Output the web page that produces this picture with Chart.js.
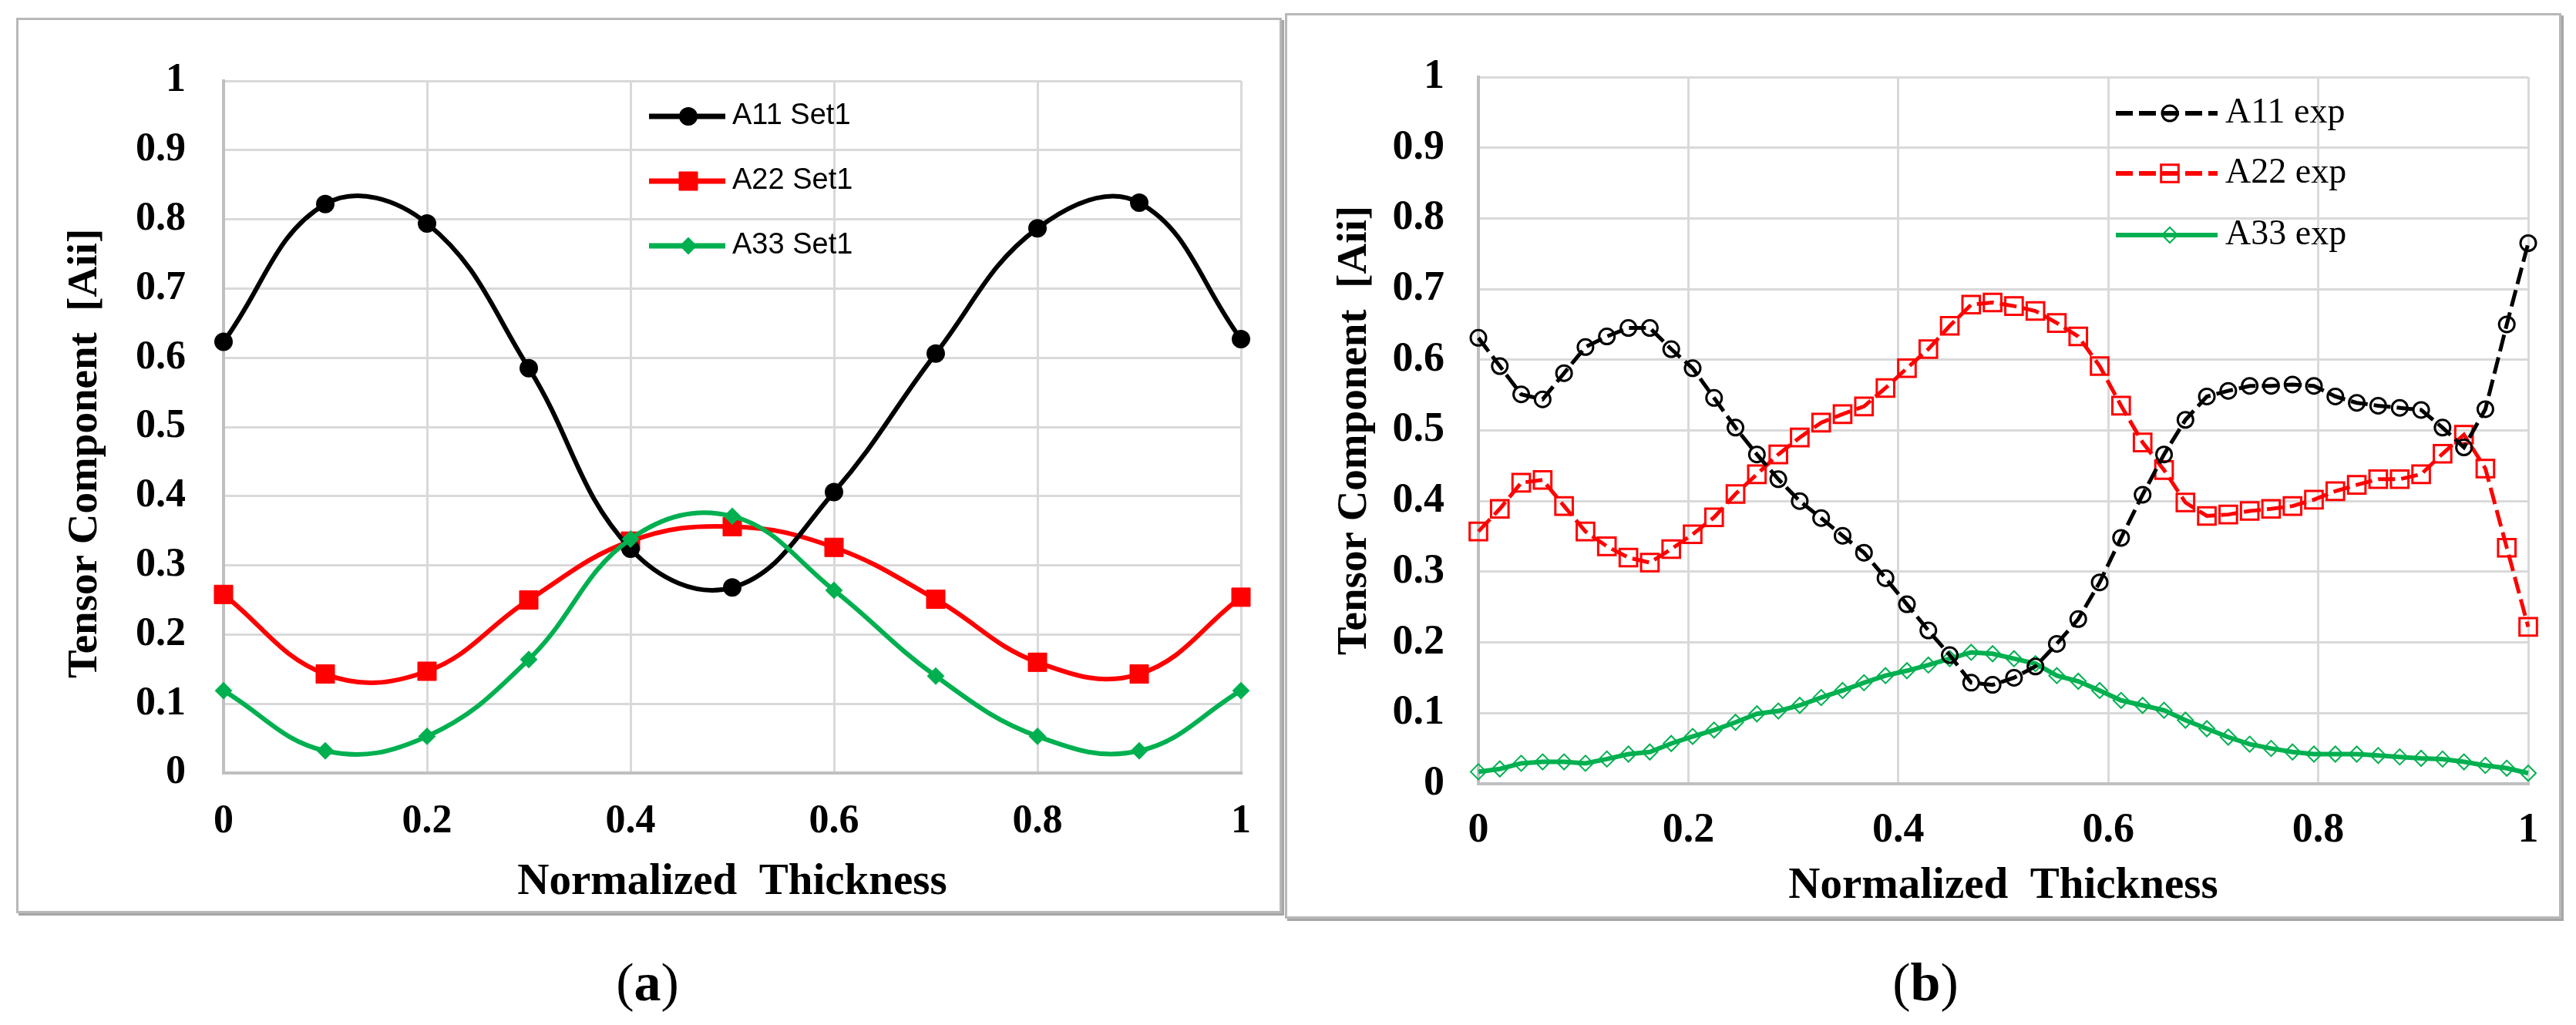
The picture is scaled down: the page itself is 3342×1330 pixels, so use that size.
<!DOCTYPE html>
<html><head><meta charset="utf-8">
<script src="https://cdn.jsdelivr.net/npm/chart.js@4.4.0/dist/chart.umd.min.js"></script>
<style>
html,body{margin:0;padding:0;background:#fff;}
body{width:3342px;height:1330px;position:relative;overflow:hidden;}
.frame{position:absolute;box-sizing:border-box;border:3px solid #b8b8b8;box-shadow:3px 3px 0 #a6a6a6;}
#frameA{left:21px;top:23px;width:1642px;height:1162px;}
#frameB{left:1667px;top:17px;width:1656px;height:1175px;}
canvas{position:absolute;}
#cA{left:0;top:0;}
#cB{left:1667px;top:0;}
.cap{position:absolute;font-family:"Liberation Serif";font-size:70px;line-height:70px;width:200px;text-align:center;color:#000;}
</style></head>
<body>
<div class="frame" id="frameA"></div>
<div class="frame" id="frameB"></div>
<canvas id="cA" width="1665" height="1200" style="width:1665px;height:1200px"></canvas>
<canvas id="cB" width="1675" height="1200" style="width:1675px;height:1200px"></canvas>
<div class="cap" style="left:740px;top:1240px">(<b>a</b>)</div>
<div class="cap" style="left:2398px;top:1240px">(<b>b</b>)</div>
<script>
// ---------- data ----------
const xTickValues = [0, 0.2, 0.4, 0.6, 0.8, 1];
const yTickValues = [0, 0.1, 0.2, 0.3, 0.4, 0.5, 0.6, 0.7, 0.8, 0.9, 1];

// panel (a)
const thicknessA = [0, 0.1, 0.2, 0.3, 0.4, 0.5, 0.6, 0.7, 0.8, 0.9, 1];
const a11Set1 = [0.623, 0.822, 0.794, 0.585, 0.324, 0.268, 0.406, 0.606, 0.787, 0.824, 0.627];
const a22Set1 = [0.258, 0.143, 0.147, 0.250, 0.335, 0.356, 0.326, 0.251, 0.160, 0.143, 0.254];
const a33Set1 = [0.119, 0.032, 0.053, 0.164, 0.338, 0.371, 0.264, 0.140, 0.053, 0.032, 0.119];

// panel (b)
const thicknessB = [0, 0.0204, 0.0408, 0.0612, 0.0816, 0.1020, 0.1224, 0.1429, 0.1633, 0.1837,
  0.2041, 0.2245, 0.2449, 0.2653, 0.2857, 0.3061, 0.3265, 0.3469, 0.3673, 0.3878,
  0.4082, 0.4286, 0.4490, 0.4694, 0.4898, 0.5102, 0.5306, 0.5510, 0.5714, 0.5918,
  0.6122, 0.6327, 0.6531, 0.6735, 0.6939, 0.7143, 0.7347, 0.7551, 0.7755, 0.7959,
  0.8163, 0.8367, 0.8571, 0.8776, 0.8980, 0.9184, 0.9388, 0.9592, 0.9796, 1];
const a11Exp = [0.631, 0.591, 0.551, 0.544, 0.581, 0.618, 0.633, 0.645, 0.645, 0.615,
  0.588, 0.546, 0.504, 0.466, 0.431, 0.400, 0.376, 0.351, 0.327, 0.291,
  0.254, 0.217, 0.182, 0.143, 0.140, 0.150, 0.166, 0.198, 0.233, 0.285,
  0.348, 0.409, 0.466, 0.515, 0.548, 0.556, 0.563, 0.563, 0.565, 0.563,
  0.548, 0.539, 0.535, 0.532, 0.529, 0.504, 0.476, 0.530, 0.650, 0.765];
const a22Exp = [0.357, 0.389, 0.426, 0.430, 0.393, 0.357, 0.336, 0.320, 0.313, 0.332,
  0.353, 0.377, 0.410, 0.438, 0.466, 0.490, 0.511, 0.523, 0.534, 0.560,
  0.588, 0.615, 0.648, 0.678, 0.681, 0.676, 0.669, 0.652, 0.633, 0.591,
  0.535, 0.483, 0.444, 0.398, 0.379, 0.381, 0.386, 0.389, 0.393, 0.402,
  0.414, 0.423, 0.431, 0.431, 0.438, 0.467, 0.494, 0.446, 0.334, 0.222];
const a33Exp = [0.017, 0.021, 0.029, 0.031, 0.031, 0.029, 0.035, 0.042, 0.045, 0.057,
  0.067, 0.076, 0.087, 0.099, 0.103, 0.111, 0.122, 0.132, 0.143, 0.153,
  0.160, 0.168, 0.177, 0.186, 0.184, 0.177, 0.170, 0.153, 0.145, 0.132,
  0.118, 0.111, 0.104, 0.090, 0.078, 0.066, 0.056, 0.050, 0.045, 0.042,
  0.042, 0.042, 0.040, 0.038, 0.036, 0.035, 0.031, 0.026, 0.022, 0.015];

const BLACK = '#000000', RED = '#ff0000', GREEN = '#00b050';
const GRID = '#d9d9d9', AXIS = '#bfbfbf';

function pts(xs, ys) { return xs.map((x, i) => ({x: x, y: ys[i]})); }

// ---------- legend drawn inside the plot ----------
const insideLegend = {
  id: 'insideLegend',
  afterDraw(chart, args, o) {
    const ctx = chart.ctx;
    ctx.save();
    chart.data.datasets.forEach((ds, i) => {
      const y = o.rows[i];
      ctx.strokeStyle = ds.borderColor;
      ctx.lineWidth = o.lineWidth;
      ctx.setLineDash(ds.borderDash || []);
      ctx.beginPath(); ctx.moveTo(o.x0, y); ctx.lineTo(o.x1, y); ctx.stroke();
      ctx.setLineDash([]);
      ctx.fillStyle = ds.pointBackgroundColor;
      ctx.strokeStyle = ds.pointBorderColor;
      ctx.lineWidth = ds.pointBorderWidth;
      Chart.helpers.drawPoint(ctx, {pointStyle: ds.pointStyle, radius: ds.pointRadius,
        borderWidth: ds.pointBorderWidth, rotation: 0}, o.xm, y);
      ctx.fillStyle = '#000';
      ctx.font = o.font;
      ctx.textBaseline = 'middle';
      ctx.textAlign = 'left';
      ctx.fillText(ds.label, o.xt, y);
    });
    ctx.restore();
  }
};

function scales(cfg) {
  const tickFont = {family: 'Liberation Serif', size: cfg.tickSize, weight: 'bold'};
  return {
    x: {
      type: 'linear', min: 0, max: 1,
      afterBuildTicks: s => { s.ticks = xTickValues.map(v => ({value: v})); },
      afterFit: s => { s.height = cfg.xHeight; },
      ticks: {font: tickFont, color: '#000', padding: cfg.xTickPad, maxRotation: 0, autoSkip: false,
        callback: v => String(v)},
      grid: {color: GRID, lineWidth: 3, drawTicks: false},
      border: {color: AXIS, width: 4},
      title: {display: true, text: 'Normalized  Thickness', color: '#000',
        font: {family: 'Liberation Serif', size: 57, weight: 'bold'},
        padding: {top: 0, bottom: cfg.xTitlePad}}
    },
    y: {
      type: 'linear', min: 0, max: 1,
      afterBuildTicks: s => { s.ticks = yTickValues.map(v => ({value: v})); },
      afterFit: s => { s.width = cfg.yWidth; },
      ticks: {font: tickFont, color: '#000', padding: cfg.yTickPad, autoSkip: false,
        callback: v => String(v)},
      grid: {color: GRID, lineWidth: 3, drawTicks: false},
      border: {color: AXIS, width: 4},
      title: {display: true, text: cfg.yTitle, color: '#000',
        font: {family: 'Liberation Serif', size: 55, weight: 'bold'},
        padding: {top: cfg.yTitlePad, bottom: 0}}
    }
  };
}

// ---------- panel (a) ----------
new Chart(document.getElementById('cA'), {
  type: 'line',
  data: {datasets: [
    {label: 'A11 Set1', data: pts(thicknessA, a11Set1), borderColor: BLACK, backgroundColor: BLACK,
      pointBackgroundColor: BLACK, pointBorderColor: BLACK, pointStyle: 'circle', pointRadius: 11,
      pointBorderWidth: 2, borderWidth: 6, tension: 0.4, clip: false},
    {label: 'A22 Set1', data: pts(thicknessA, a22Set1), borderColor: RED, backgroundColor: RED,
      pointBackgroundColor: RED, pointBorderColor: RED, pointStyle: 'rect', pointRadius: 17,
      pointBorderWidth: 1, borderWidth: 6, tension: 0.4, clip: false},
    {label: 'A33 Set1', data: pts(thicknessA, a33Set1), borderColor: GREEN, backgroundColor: GREEN,
      pointBackgroundColor: GREEN, pointBorderColor: GREEN, pointStyle: 'rectRot', pointRadius: 10,
      pointBorderWidth: 2, borderWidth: 6, tension: 0.4, clip: false, order: -1}
  ]},
  options: {
    responsive: false, animation: false, devicePixelRatio: 1,
    layout: {padding: {left: 0, top: 105, right: 55, bottom: 0}},
    plugins: {
      legend: {display: false}, tooltip: {enabled: false},
      insideLegend: {x0: 842, x1: 941, xm: 893, xt: 950, rows: [151, 235, 319], lineWidth: 7,
        font: '38px "Liberation Sans"'}
    },
    scales: scales({tickSize: 52, xHeight: 197, xTickPad: 32, xTitlePad: 21, yWidth: 290, yTickPad: 49,
      yTitlePad: 78, yTitle: 'Tensor Component  [Aii]\u00a0\u00a0\u00a0\u00a0\u00a0'})
  },
  plugins: [insideLegend]
});

// ---------- panel (b) ----------
new Chart(document.getElementById('cB'), {
  type: 'line',
  data: {datasets: [
    {label: 'A11 exp', data: pts(thicknessB, a11Exp), borderColor: BLACK, backgroundColor: BLACK,
      borderDash: [22, 8], pointBackgroundColor: 'rgba(255,255,255,0)', pointBorderColor: BLACK,
      pointStyle: 'circle', pointRadius: 10, pointBorderWidth: 3, borderWidth: 5, tension: 0, clip: false},
    {label: 'A22 exp', data: pts(thicknessB, a22Exp), borderColor: RED, backgroundColor: RED,
      borderDash: [22, 8], pointBackgroundColor: 'rgba(255,255,255,0)', pointBorderColor: RED,
      pointStyle: 'rect', pointRadius: 16, pointBorderWidth: 3, borderWidth: 5, tension: 0, clip: false},
    {label: 'A33 exp', data: pts(thicknessB, a33Exp), borderColor: GREEN, backgroundColor: GREEN,
      pointBackgroundColor: 'rgba(255,255,255,0)', pointBorderColor: GREEN,
      pointStyle: 'rectRot', pointRadius: 10, pointBorderWidth: 2, borderWidth: 6, tension: 0, clip: false}
  ]},
  options: {
    responsive: false, animation: false, devicePixelRatio: 1,
    layout: {padding: {left: 0, top: 100, right: 62, bottom: 0}},
    plugins: {
      legend: {display: false}, tooltip: {enabled: false},
      insideLegend: {x0: 1078, x1: 1210, xm: 1148, xt: 1220, rows: [147, 225, 305], lineWidth: 6,
        font: '46px "Liberation Serif"'}
    },
    scales: scales({tickSize: 54, xHeight: 183, xTickPad: 29, xTitlePad: 16, yWidth: 251, yTickPad: 44,
      yTitlePad: 58, yTitle: 'Tensor Component  [Aii]'})
  },
  plugins: [insideLegend]
});
</script>
</body></html>
